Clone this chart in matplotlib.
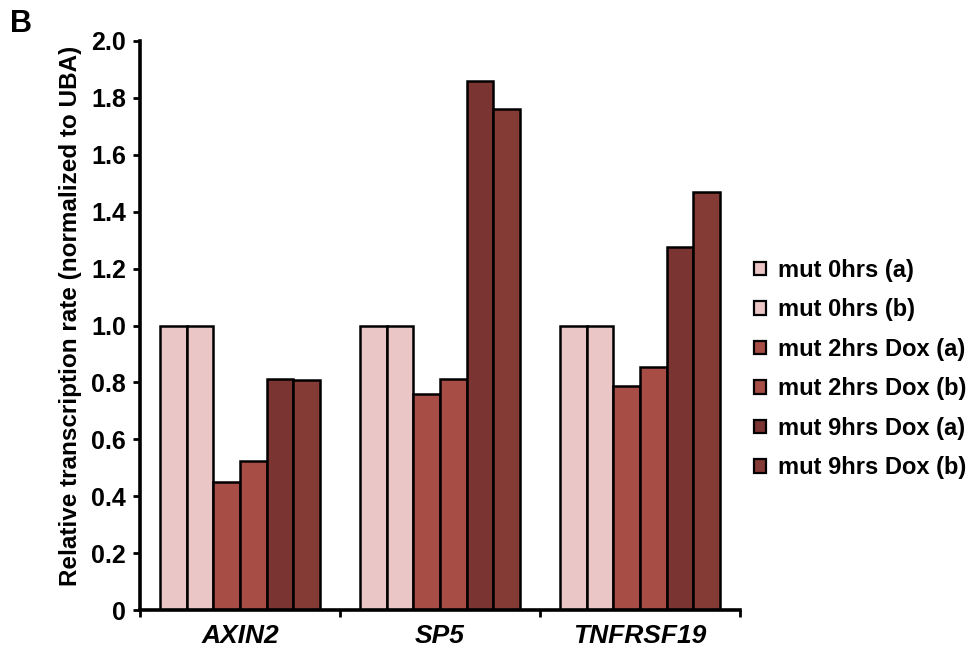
import numpy as np
import matplotlib
matplotlib.use('Agg')
import matplotlib.pyplot as plt
from matplotlib.patches import Patch

# Relative transcription rate per gene and condition
genes = ['AXIN2', 'SP5', 'TNFRSF19']
conditions = ['mut 0hrs (a)', 'mut 0hrs (b)', 'mut 2hrs Dox (a)',
              'mut 2hrs Dox (b)', 'mut 9hrs Dox (a)', 'mut 9hrs Dox (b)']
values = [
    [1.0, 1.0, 1.0],        # mut 0hrs (a)
    [1.0, 1.0, 1.0],        # mut 0hrs (b)
    [0.45, 0.758, 0.789],   # mut 2hrs Dox (a)
    [0.525, 0.812, 0.854],  # mut 2hrs Dox (b)
    [0.812, 1.86, 1.276],   # mut 9hrs Dox (a)
    [0.808, 1.76, 1.468],   # mut 9hrs Dox (b)
]
colors = ['#EAC7C6', '#EAC7C6', '#A84C46', '#A84C46', '#7A3431', '#843A35']

plt.rcParams['font.family'] = ['Liberation Sans', 'DejaVu Sans']
plt.rcParams['font.weight'] = 'bold'

fig = plt.figure(figsize=(9.8, 6.49), dpi=100)
ax = fig.add_axes([140/980, 1 - 610/649, 600/980, 569/649])

x = np.arange(len(genes))
w = 0.8 / len(conditions)
for i, (cond, vals, c) in enumerate(zip(conditions, values, colors)):
    ax.bar(x + (i - 2.5) * w, vals, width=w, color=c, edgecolor='black',
           linewidth=1.8, label=cond, zorder=2)

ax.set_xlim(-0.5, 2.5)
ax.set_ylim(0, 2.0)
ax.set_yticks(np.arange(0, 2.01, 0.2))
ax.set_yticklabels(['0'] + ['%.1f' % v for v in np.arange(0.2, 2.01, 0.2)],
                   fontsize=18, fontweight='bold')
ax.set_xticks(x)
ax.set_xticklabels(genes, fontsize=19, fontweight='bold', style='italic')
ax.set_xticks([-0.5, 0.5, 1.5, 2.5], minor=True)
ax.tick_params(axis='x', which='major', length=0, pad=10)
ax.tick_params(axis='x', which='minor', length=5, width=2, direction='out')
ax.tick_params(axis='y', length=5, width=2, direction='out', pad=5)

for s in ['top', 'right']:
    ax.spines[s].set_visible(False)
for s in ['left', 'bottom']:
    ax.spines[s].set_linewidth(2.6)

ax.set_ylabel('Relative transcription rate (normalized to UBA)',
              fontsize=17.5, fontweight='bold')
ax.yaxis.set_label_coords(-0.097, 0.517)

handles = [Patch(facecolor=c, edgecolor='black', linewidth=1.6) for c in colors]
fig.legend(handles, conditions, loc='center left',
           bbox_to_anchor=(745/980, 1 - 369/649), frameon=False,
           handlelength=0.5, handleheight=0.5, handletextpad=0.5,
           labelspacing=0.70, borderaxespad=0, borderpad=0.4,
           prop={'size': 17, 'weight': 'bold'})

fig.text(10/980, 1 - 24/649, 'B', fontsize=22, fontweight='bold', va='center')

plt.savefig('out.png', dpi=100)
